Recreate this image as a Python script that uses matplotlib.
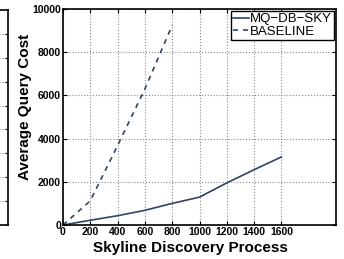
import matplotlib
matplotlib.use('Agg')
import matplotlib.pyplot as plt

plt.rcParams['font.family'] = ['Liberation Sans', 'DejaVu Sans']

# data
x_mq = [0, 200, 400, 600, 800, 1000, 1200, 1400, 1600]
y_mq = [0, 220, 430, 680, 1000, 1290, 1950, 2560, 3150]
x_base = [0, 200, 400, 600, 800]
y_base = [0, 1120, 3680, 6300, 9250]
xticks = [0, 200, 400, 600, 800, 1000, 1200, 1400, 1600]
yticks = [0, 2000, 4000, 6000, 8000, 10000]

col = '#2e4466'

fig = plt.figure(figsize=(3.44, 2.59), dpi=100)

# sliver of the neighbouring panel at the left edge
axl = fig.add_axes([-0.3, 34/259, 0.3 + 8/344, 215/259])
axl.set_xlim(0, 1)
axl.set_ylim(0, 9)
axl.set_yticks(range(1, 9))
axl.set_xticks([])
axl.tick_params(axis='y', direction='in', right=True, left=False, labelleft=False, length=2)
axl.grid(True, linestyle=':', color='#888888', linewidth=0.8)
for s in axl.spines.values():
    s.set_linewidth(1.2)

ax = fig.add_axes([63/344, 34/259, 273/344, 216/259])
ax.plot(x_mq, y_mq, '-', color=col, linewidth=1.2, label='MQ\u2212DB\u2212SKY')
ax.plot(x_base, y_base, '--', color=col, linewidth=1.2, dashes=(3, 3), label='BASELINE')
ax.set_xlim(0, 2000)
ax.set_ylim(0, 10000)
ax.set_xticks(xticks)
ax.set_yticks(yticks)
ax.set_xticklabels([str(v) for v in xticks], fontsize=7.5, fontweight='bold')
ax.set_yticklabels([str(v) for v in yticks], fontsize=7.5, fontweight='bold')
ax.tick_params(direction='in', top=True, right=True, length=3, pad=1.5)
ax.grid(True, linestyle=':', color='#888888', linewidth=0.8)
for s in ax.spines.values():
    s.set_linewidth(1.2)
ax.set_xlabel('Skyline Discovery Process', fontsize=11, fontweight='bold')
ax.set_ylabel('Average Query Cost', fontsize=11, fontweight='bold')
ax.xaxis.set_label_coords(0.465, -0.075)
ax.yaxis.set_label_coords(-0.115, 0.546)

leg = ax.legend(loc='upper right', fontsize=9.5, handlelength=1.2, handletextpad=0.1,
                borderpad=0.15, labelspacing=0.05, borderaxespad=0.15, fancybox=False,
                framealpha=1)
leg.get_frame().set_edgecolor('black')
leg.get_frame().set_linewidth(1.0)

fig.savefig('out.png', dpi=100)
